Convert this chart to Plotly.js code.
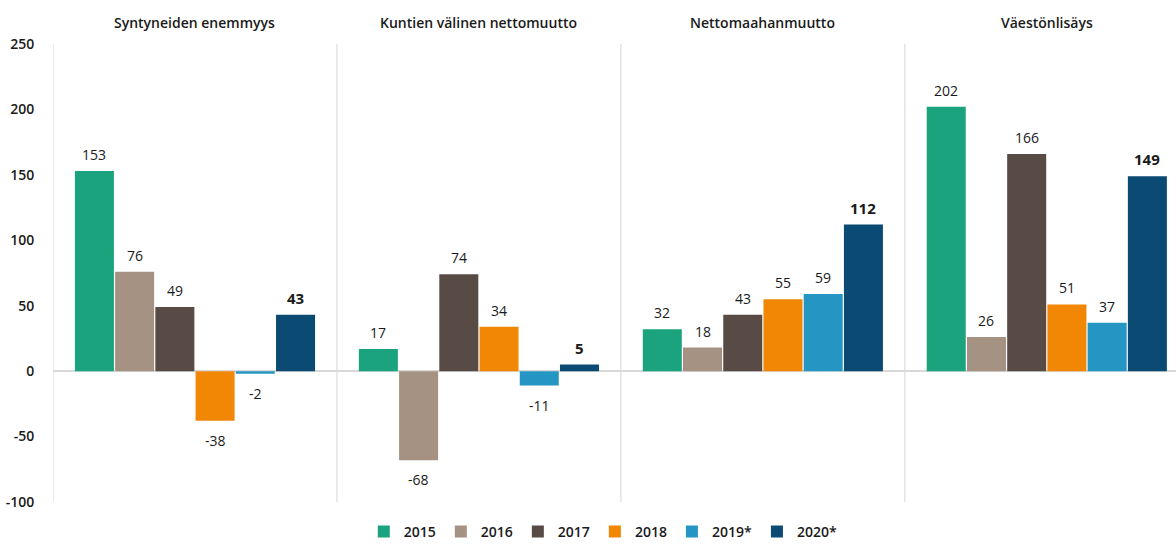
<!DOCTYPE html>
<html><head><meta charset="utf-8">
<script src="https://cdn.plot.ly/plotly-3.0.1.min.js"></script>
<style>html,body{margin:0;padding:0;background:#fff;}#chart{width:1176px;height:545px;}</style>
</head><body><div id="chart"></div>
<script>
const categories = ["Syntyneiden enemmyys", "Kuntien välinen nettomuutto", "Nettomaahanmuutto", "Väestönlisäys"];
const years = ["2015", "2016", "2017", "2018", "2019*", "2020*"];
const v2015 = [153, 17, 32, 202];
const v2016 = [76, -68, 18, 26];
const v2017 = [49, 74, 43, 166];
const v2018 = [-38, 34, 55, 51];
const v2019 = [-2, -11, 59, 37];
const v2020 = [43, 5, 112, 149];
const yTicks = [-100, -50, 0, 50, 100, 150, 200, 250];

const series = [v2015, v2016, v2017, v2018, v2019, v2020];
const colors = ["#1BA37E", "#A69282", "#584A45", "#F28705", "#2596C4", "#0B4A72"];
const xIdx = categories.map((c, i) => i);
const bargap = 0.15;
const slot = (1 - bargap) / series.length;

const FONT = "Open Sans, Noto Sans, sans-serif";
const traces = series.map((vals, j) => ({
  type: "bar", name: years[j], x: xIdx, y: vals,
  marker: {color: colors[j], line: {width: 0}},
  hoverinfo: "skip"
}));

const annotations = [];
series.forEach((vals, j) => {
  vals.forEach((v, i) => {
    const bold = j === series.length - 1;
    annotations.push({
      x: i - (1 - bargap) / 2 + (j + 0.5) * slot, y: v, xref: "x", yref: "y",
      text: String(v), showarrow: false,
      yanchor: v >= 0 ? "bottom" : "top", yshift: v >= 0 ? 5 : -8,
      font: {family: FONT, size: bold ? 15 : 14, color: "#1a1a1a", weight: bold ? 700 : 400}
    });
  });
});
categories.forEach((c, i) => {
  annotations.push({
    x: i, y: 1, xref: "x", yref: "paper", yanchor: "bottom", yshift: 10,
    text: c, showarrow: false,
    font: {family: FONT, size: 14, color: "#1a1a1a", weight: 600}
  });
});

const shapes = [-0.5, 0.5, 1.5, 2.5].map(x => ({
  type: "line", xref: "x", yref: "y", x0: x, x1: x, y0: -100, y1: 250,
  line: {color: "#e3e3e3", width: 1.5}, layer: "below"
}));

const layout = {
  width: 1176, height: 545,
  margin: {l: 53, r: 0, t: 44, b: 43, autoexpand: false},
  paper_bgcolor: "#fff", plot_bgcolor: "#fff",
  barmode: "group", bargap: bargap, bargroupgap: 0.03,
  showlegend: true,
  legend: {orientation: "h", xref: "container", yref: "container", x: 0.513, xanchor: "center", y: 0.024, yanchor: "middle",
    font: {family: FONT, size: 14, color: "#1a1a1a", weight: 600}, itemwidth: 30, tracegroupgap: 0},
  xaxis: {range: [-0.5, 3.455], showticklabels: false, showgrid: false, zeroline: false, ticks: "", fixedrange: true},
  yaxis: {range: [-100, 250], tickvals: yTicks, ticktext: yTicks.map(String), showgrid: false,
    zeroline: true, zerolinecolor: "#d9d9d9", zerolinewidth: 1.5,
    ticks: "outside", ticklen: 15, tickcolor: "rgba(0,0,0,0)",
    tickfont: {family: FONT, size: 14, color: "#1a1a1a", weight: 600}},
  annotations: annotations, shapes: shapes
};
Plotly.newPlot("chart", traces, layout, {displayModeBar: false, staticPlot: true});
</script></body></html>
